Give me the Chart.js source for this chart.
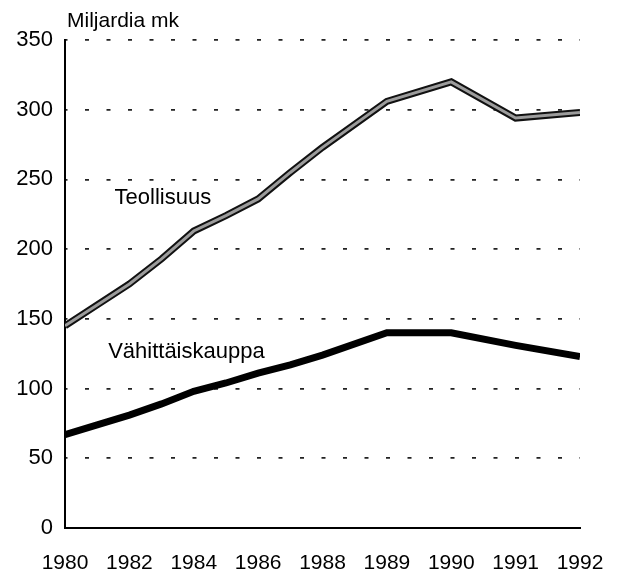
<!DOCTYPE html>
<html>
<head>
<meta charset="utf-8">
<script src="https://cdn.jsdelivr.net/npm/chart.js@4/dist/chart.umd.min.js"></script>
<style>
  html, body { margin: 0; padding: 0; background: #fff; }
  #wrap { width: 622px; height: 576px; position: relative; }
</style>
</head>
<body>
<div id="wrap"><canvas id="myChart"></canvas></div>
<script>
// tick labels along the x axis (evenly spaced in the original)
const tickYears = [1980, 1982, 1984, 1986, 1988, 1989, 1990, 1991, 1992];
const years = [1980, 1981, 1982, 1983, 1984, 1985, 1986, 1987, 1988, 1989, 1990, 1991, 1992];
const teollisuus = [145, 160, 175, 193, 213, 224, 236, 255, 273, 306, 320, 294, 298];
const vahittaiskauppa = [67, 74, 81, 89, 98, 104, 111, 117, 124, 140, 140, 131, 123];
const yTicks = [0, 50, 100, 150, 200, 250, 300, 350];

// year -> position on the uneven axis
function yearPos(y) {
    for (let i = 0; i < tickYears.length - 1; i++) {
        if (y >= tickYears[i] && y <= tickYears[i + 1]) {
            return i + (y - tickYears[i]) / (tickYears[i + 1] - tickYears[i]);
        }
    }
    return tickYears.length - 1;
}

const toPoints = vals => years.map((yr, i) => ({ x: yearPos(yr), y: vals[i] }));

const FONT = "'Liberation Sans', Arial, sans-serif";

const textPlugin = {
    id: "texts",
    afterDraw(chart) {
        const ctx = chart.ctx;
        const xs = chart.scales.x, ys = chart.scales.y;
        ctx.save();
        ctx.fillStyle = "#000";
        ctx.textBaseline = "alphabetic";
        ctx.textAlign = "left";
        ctx.font = "21px " + FONT;
        ctx.fillText("Miljardia mk", 67, 27);
        ctx.font = "22px " + FONT;
        ctx.textBaseline = "middle";
        ctx.fillText("Teollisuus", xs.getPixelForValue(0.77), ys.getPixelForValue(237));
        ctx.fillText("Vähittäiskauppa", xs.getPixelForValue(0.67), ys.getPixelForValue(126));
        ctx.restore();
    }
};

const config = {
    type: "line",
    data: {
        datasets: [
            {
                label: "Teollisuus",
                data: toPoints(teollisuus),
                borderColor: "#111",
                borderWidth: 7,
                pointRadius: 0,
                tension: 0,
                order: 3
            },
            {
                label: "Teollisuus (fill)",
                data: toPoints(teollisuus),
                borderColor: "#9c9c9c",
                borderWidth: 3,
                pointRadius: 0,
                tension: 0,
                order: 2
            },
            {
                label: "Vähittäiskauppa",
                data: toPoints(vahittaiskauppa),
                borderColor: "#000",
                borderWidth: 7,
                pointRadius: 0,
                tension: 0,
                order: 1
            }
        ]
    },
    options: {
        responsive: false,
        animation: false,
        layout: { padding: { top: 40, right: 42, bottom: 0, left: 0 } },
        plugins: {
            legend: { display: false },
            tooltip: { enabled: false }
        },
        scales: {
            x: {
                type: "linear",
                min: 0,
                max: tickYears.length - 1,
                afterFit(scale) {
                    scale.height = 48;
                    scale.paddingLeft = 0;
                    scale.paddingRight = 0;
                },
                afterBuildTicks(scale) {
                    scale.ticks = tickYears.map((_, i) => ({ value: i }));
                },
                grid: { display: false, drawTicks: false },
                border: { display: true, color: "#000", width: 2 },
                ticks: {
                    color: "#000",
                    font: { family: FONT, size: 21 },
                    padding: 23,
                    maxRotation: 0,
                    autoSkip: false,
                    callback: v => tickYears[v]
                }
            },
            y: {
                min: 0,
                max: 350,
                afterFit(scale) { scale.width = 65; },
                afterBuildTicks(scale) {
                    scale.ticks = yTicks.map(v => ({ value: v }));
                },
                grid: {
                    drawTicks: false,
                    color: ctx => ctx.tick && ctx.tick.value === 0 ? "rgba(0,0,0,0)" : "#222",
                    lineWidth: 1.8
                },
                border: { display: true, color: "#000", width: 2, dash: [4, 17.5], dashOffset: -19 },
                ticks: {
                    color: "#000",
                    font: { family: FONT, size: 22 },
                    padding: 12
                }
            }
        }
    },
    plugins: [textPlugin]
};

const canvas = document.getElementById("myChart");
canvas.width = 622;
canvas.height = 576;
const myChart = new Chart(canvas.getContext("2d"), config);
</script>
</body>
</html>
